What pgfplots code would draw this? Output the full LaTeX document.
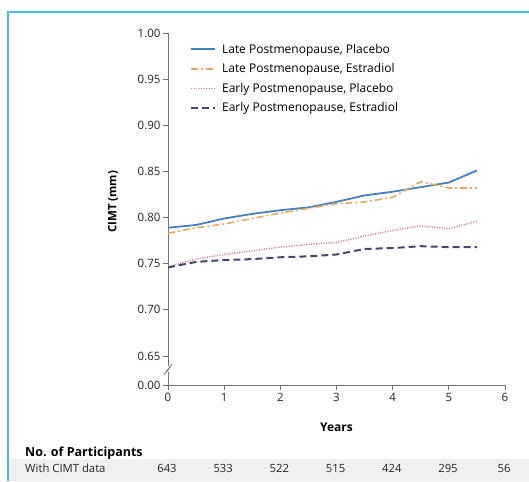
\documentclass[border=0pt]{standalone}
\usepackage{pgfplots}
\pgfplotsset{compat=1.18}
\usepackage{fontspec}
\setmainfont{Open Sans}
\definecolor{frameblue}{RGB}{70,185,235}
\definecolor{axgray}{RGB}{115,115,115}
\definecolor{lpb}{RGB}{70,130,185}
\definecolor{lpe}{RGB}{230,170,95}
\definecolor{epb}{RGB}{205,125,150}
\definecolor{epe}{RGB}{70,70,110}
\begin{document}
\begin{tikzpicture}[x=1pt,y=1pt]
\path[use as bounding box] (0,0) rectangle (529,481);
\fill[black!6] (9,0) rectangle (529,22);
\draw[frameblue, line width=1.6pt] (8,0) -- (8,469) -- (529,469);
\begin{axis}[
  at={(168pt,96pt)}, anchor=south west,
  scale only axis, width=337pt, height=352pt,
  xmin=0, xmax=6, ymin=0.6186, ymax=1.0,
  axis lines=left, axis line style={-, axgray, line width=0.9pt},
  xtick={0,1,2,3,4,5,6},
  ytick={0.6186,0.65,0.70,0.75,0.80,0.85,0.90,0.95,1.00},
  yticklabels={0.00,0.65,0.70,0.75,0.80,0.85,0.90,0.95,1.00},
  tick align=outside, major tick length=5pt,
  tick style={axgray, line width=0.8pt},
  /pgf/number format/assume math mode=true,
  ticklabel style={font=\fontsize{11.5}{13}\selectfont, text=black!85},
  yticklabel style={xshift=1pt},
  clip=false,
  xlabel={\bfseries Years},
  xlabel style={at={(axis description cs:0.5,-0.119)}, anchor=center, font=\fontsize{12}{14}\selectfont},
  ylabel={\bfseries CIMT (mm)},
  ylabel style={at={(axis description cs:-0.163,0.52)}, anchor=center, font=\fontsize{11.5}{13}\selectfont},
  legend style={at={(axis description cs:0.065,0.975)}, anchor=north west, draw=none, fill=none,
    font=\fontsize{12}{14}\selectfont, row sep=5pt, inner sep=0pt,
    nodes={inner xsep=6pt}},
  legend cell align=left,
  legend image code/.code={\draw[#1] (0pt,0pt) -- (24pt,0pt);},
]
\addplot[lpb, line width=1.8pt] coordinates {
(0,0.789) (0.5,0.792) (1,0.799) (1.5,0.804) (2,0.808) (2.5,0.811) (3,0.817) (3.5,0.824) (4,0.828) (4.5,0.833) (5,0.838) (5.5,0.851)};
\addlegendentry{Late Postmenopause, Placebo}
\addplot[lpe, line width=1.6pt, dash pattern=on 7pt off 3pt on 2pt off 3pt] coordinates {
(0,0.783) (0.5,0.789) (1,0.793) (1.5,0.799) (2,0.805) (2.5,0.810) (3,0.815) (3.5,0.817) (4,0.822) (4.5,0.839) (5,0.832) (5.5,0.832)};
\addlegendentry{Late Postmenopause, Estradiol}
\addplot[epb, line width=1.5pt, dash pattern=on 1pt off 1.5pt] coordinates {
(0,0.747) (0.5,0.755) (1,0.760) (1.5,0.764) (2,0.768) (2.5,0.771) (3,0.773) (3.5,0.780) (4,0.786) (4.5,0.791) (5,0.788) (5.5,0.796)};
\addlegendentry{Early Postmenopause, Placebo}
\addplot[epe, line width=2pt, dash pattern=on 7pt off 4pt] coordinates {
(0,0.746) (0.5,0.752) (1,0.754) (1.5,0.755) (2,0.757) (2.5,0.758) (3,0.760) (3.5,0.766) (4,0.767) (4.5,0.769) (5,0.768) (5.5,0.768)};
\addlegendentry{Early Postmenopause, Estradiol}
\end{axis}
% axis break
\fill[white] (165,109) rectangle (171,115);
\draw[axgray, line width=0.8pt] (164,106) -- (170,114);
\draw[axgray, line width=0.8pt] (166,109) -- (172,117);
\node[anchor=base west, inner sep=0pt, font=\fontsize{12.5}{14}\selectfont\bfseries] at (25,24) {No. of Participants};
\node[anchor=base west, inner sep=0pt, font=\fontsize{11.3}{13}\selectfont, text=black!85] at (25,9) {With CIMT data};
\foreach \n [count=\i from 0] in {643,533,522,515,424,295,56}
  \node[anchor=base, inner sep=0pt, font=\fontsize{11.3}{13}\selectfont, text=black!85] at (167+56.2*\i,9) {\n};
\end{tikzpicture}
\end{document}
